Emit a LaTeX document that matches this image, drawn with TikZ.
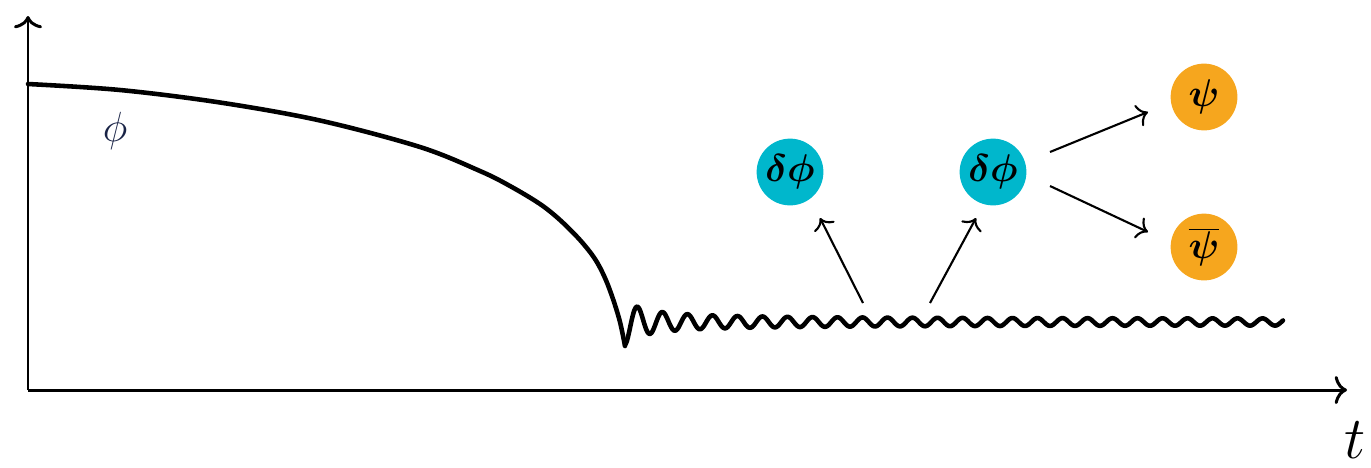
\RequirePackage{fix-cm}
\documentclass[tikz,border=0pt]{standalone}
\usepackage{bm}
\usetikzlibrary{arrows.meta}
\definecolor{dphicol}{RGB}{0,183,204}
\definecolor{psicol}{RGB}{246,166,30}
\definecolor{philab}{RGB}{25,35,70}
\tikzset{
  axis/.style={line width=1.7pt, -{To[length=7pt,width=16pt]}},
  field/.style={line width=2.6pt, line cap=round, line join=round},
  decay/.style={line width=1.2pt, -{To[length=6pt,width=13pt]}},
  ball/.style={circle, minimum size=38pt, inner sep=0pt, text=black,
    font=\fontsize{22}{26}\selectfont},
  dball/.style={ball, fill=dphicol},
  pball/.style={ball, fill=psicol},
}
\begin{document}
\begin{tikzpicture}[x=0.02cm,y=-0.02cm]
\useasboundingbox (0,0) rectangle (1371,467);
% axes
\coordinate (O) at (28,390);
\coordinate (ytop) at (28,16);
\coordinate (xend) at (1347,390);
\draw[axis] (O) -- (ytop);
\draw[axis] (O) -- (xend);
\node[inner sep=0pt, font=\fontsize{34}{40}\selectfont] (t) at (1355,440) {$t$};
\node[text=philab, font=\fontsize{24}{28}\selectfont] (philabel) at (115,131) {$\phi$};
% field trajectory
\draw[field] plot[smooth, tension=0.55] coordinates
  {(28,84) (120,90) (220,102.5) (320,120.5) (420,147) (480,171) (510,186) (540,204) (560,220) (580,240) (595,259) (605,278) (613,299) (620,322) (625,346)};
\draw[field] plot[smooth, domain=625:1283, samples=700]
  (\x, {322 + (3 + 20/(1+(\x-625)/20))*cos(14.4*(\x-625))});
% particles
\node[dball] (d1) at (790,172) {$\bm{\delta\phi}$};
\node[dball] (d2) at (993,172) {$\bm{\delta\phi}$};
\node[pball] (p1) at (1204,97) {$\bm{\psi}$};
\node[pball] (p2) at (1204,247) {$\overline{\bm{\psi}}$};
% decay arrows
\coordinate (s1) at (863,303);
\coordinate (e1) at (820,218);
\coordinate (s2) at (930,303);
\coordinate (e2) at (976,218);
\coordinate (s3) at (1050,152);
\coordinate (e3) at (1148,112);
\coordinate (s4) at (1050,186);
\coordinate (e4) at (1148,232);
\draw[decay] (s1) -- (e1);
\draw[decay] (s2) -- (e2);
\draw[decay] (s3) -- (e3);
\draw[decay] (s4) -- (e4);
\end{tikzpicture}
\end{document}
